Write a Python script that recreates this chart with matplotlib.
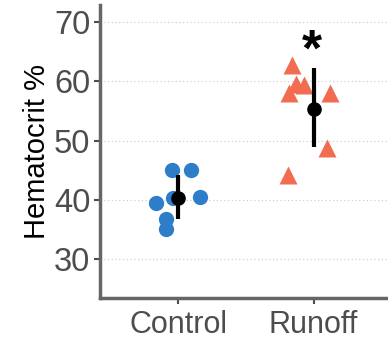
import matplotlib
matplotlib.use("Agg")
import matplotlib.pyplot as plt
import numpy as np

categories = ["Control", "Runoff"]
control_x = [-0.047, 0.096, -0.163, -0.037, 0.156, -0.096, -0.089]
control_y = [45.0, 45.0, 39.4, 40.3, 40.5, 36.8, 35.0]
runoff_x = [-0.158, -0.133, -0.074, -0.185, 0.119, 0.101, -0.19]
runoff_y = [62.7, 59.6, 59.4, 58.0, 58.0, 48.7, 44.2]
means = [40.3, 55.3]
err_lo = [36.7, 48.9]
err_hi = [44.2, 62.2]
yticks = [30, 40, 50, 60, 70]

plt.rcParams['font.family'] = ['Liberation Sans', 'DejaVu Sans']
fig = plt.figure(figsize=(3.88, 3.44), dpi=100)
ax = fig.add_axes([0.258, 0.134, 0.742, 0.851])

for y in yticks:
    ax.axhline(y, color='#d0d0d0', lw=0.9, ls=(0, (1, 2)), zorder=0)

ax.plot(1 + np.array(control_x), control_y, 'o', ms=11, color='#2D7DC8', mec='none', zorder=2)
ax.plot(2 + np.array(runoff_x), runoff_y, '^', ms=13.5, color='#F26C52', mec='none', zorder=2)

for i, m in enumerate(means):
    ax.plot([i + 1, i + 1], [err_lo[i], err_hi[i]], color='black', lw=3, zorder=3, solid_capstyle='butt')
    ax.plot(i + 1, m, 'o', ms=9.5, color='black', zorder=4)

ax.text(1.985, 64.9, '*', ha='center', va='center', fontsize=37, fontweight='bold', color='black')

ax.set_xlim(0.42, 2.55)
ax.set_ylim(23.4, 72.9)
ax.set_xticks([1, 2])
ax.set_xticklabels(categories)
ax.set_yticks(yticks)
ax.tick_params(axis='y', labelsize=23.5, colors='#4D4D4D', length=4, width=1.5, pad=3)
ax.tick_params(axis='x', labelsize=22, colors='#4D4D4D', length=4, width=1.5, pad=5)
ax.set_ylabel('Hematocrit %', fontsize=21, color='black', labelpad=2)
for s in ['top', 'right']:
    ax.spines[s].set_visible(False)
for s in ['left', 'bottom']:
    ax.spines[s].set_color('#666666')
    ax.spines[s].set_linewidth(2.5)

fig.savefig('out.png', dpi=100)
